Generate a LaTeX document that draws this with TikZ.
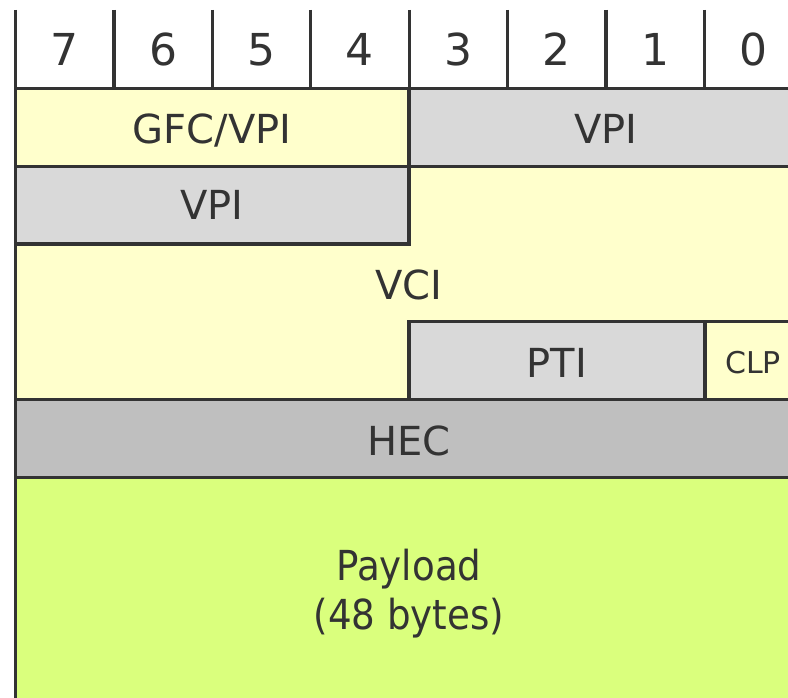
\documentclass[tikz,border=0pt]{standalone}
\usepackage{fontspec}
\setmainfont{DejaVu Sans}
\newfontfamily\condfont{DejaVu Sans Condensed}
\definecolor{ln}{HTML}{333333}
\definecolor{yel}{HTML}{FFFFCC}
\definecolor{gry}{HTML}{D9D9D9}
\definecolor{hec}{HTML}{BFBFBF}
\definecolor{pay}{HTML}{DAFF7D}
\begin{document}
\begin{tikzpicture}[x=0.75pt,y=-0.75pt,
  fld/.style={draw=ln,line width=2.4pt},
  lbl/.style={text=ln,font=\fontsize{30}{36}\selectfont,anchor=base,inner sep=0pt},
  plbl/.style={text=ln,font=\condfont\fontsize{31}{36}\selectfont,anchor=base,inner sep=0pt},
  hdr/.style={text=ln,font=\fontsize{33}{40}\selectfont,anchor=base,inner sep=0pt},
  sml/.style={text=ln,font=\fontsize{22.5}{27}\selectfont,anchor=base,inner sep=0pt}]
\useasboundingbox (0,0) rectangle (788,698);
\fill[white] (0,0) rectangle (788,698);
\begin{scope}
\clip (0,0) rectangle (788,698);
% VCI background region
\fill[yel] (15.5,88.5) rectangle (820,399.7);
% fields
\filldraw[fld,fill=yel] (15.5,88.5) rectangle (409,166.3);
\filldraw[fld,fill=gry] (409,88.5) rectangle (820,166.3);
\filldraw[fld,fill=gry] (15.5,166.3) rectangle (409,244.1);
\filldraw[fld,fill=gry] (409,321.9) rectangle (705,399.7);
\filldraw[fld,fill=yel] (705,321.9) rectangle (820,399.7);
\filldraw[fld,fill=hec] (15.5,399.7) rectangle (820,477.5);
\filldraw[fld,fill=pay] (15.5,477.5) rectangle (820,740);
% header lines
\foreach \i in {1,...,7} {
  \draw[ln,line width=2.4pt] ({15.5+\i*98.4},10) -- ({15.5+\i*98.4},88.5);
}
\draw[ln,line width=2.4pt] (15.5,10) -- (15.5,740);
\end{scope}
% header digits
\foreach \i/\d in {0/7,1/6,2/5,3/4,4/3,5/2,6/1,7/0} {
  \node[hdr] (b\d) at ({15.5+(\i+0.5)*98.4},66) {\d};
}
\node[lbl] (gfc) at (212,144) {GFC/VPI};
\node[lbl] (vpia) at (606,144) {VPI};
\node[lbl] (vpib) at (212,220) {VPI};
\node[lbl] (vci) at (409,300) {VCI};
\node[lbl] (pti) at (557,377.3) {PTI};
\node[sml] (clp) at (753,373.3) {CLP};
\node[lbl] (hec) at (409,455.7) {HEC};
\node[plbl] (pay1) at (409,580) {Payload};
\node[plbl] (pay2) at (409,629) {(48 bytes)};
\end{tikzpicture}
\end{document}
